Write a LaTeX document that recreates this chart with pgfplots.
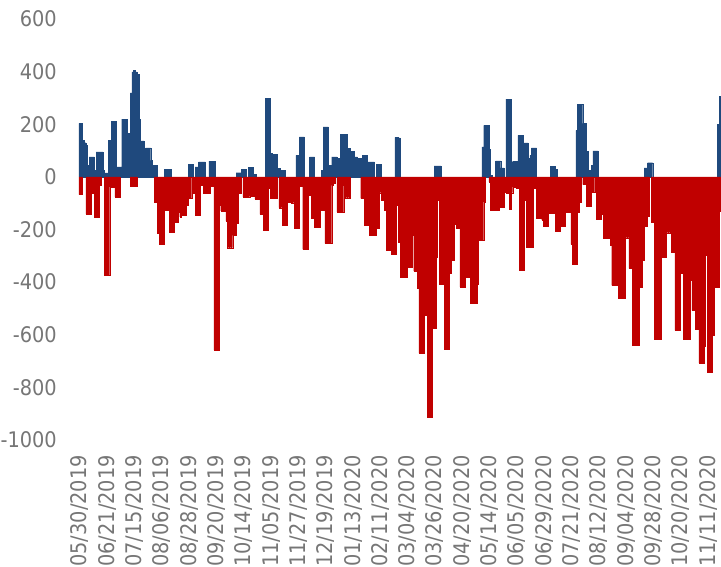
\documentclass[border=0pt]{standalone}
\usepackage{pgfplots}
\usepackage{pgfplotstable}
\pgfplotsset{compat=1.18}
\usepackage{fontspec}
\setmainfont{DejaVu Sans Condensed}
\definecolor{barblue}{RGB}{31,73,125}
\definecolor{barred}{RGB}{192,0,0}
\definecolor{lblgray}{RGB}{118,118,118}
\pgfplotstableread{
i b r
0 203 -67
1 203 -67
2 139 nan
3 130 nan
4 120 -142
5 44 -142
6 76 -142
7 76 -63
8 76 -63
9 25 -152
10 95 -152
11 95 -152
12 95 -30
13 95 nan
14 25 nan
15 15 -375
16 15 -375
17 139 -375
18 139 -38
19 211 -38
20 211 -38
21 211 -76
22 38 -76
23 38 -76
24 38 nan
25 219 nan
26 219 nan
27 219 nan
28 165 nan
29 165 nan
30 319 -34
31 399 -34
32 405 -34
33 399 -34
34 390 nan
35 218 nan
36 137 nan
37 137 nan
38 85 nan
39 110 nan
40 110 nan
41 110 nan
42 63 nan
43 44 nan
44 44 -95
45 44 -95
46 nan -214
47 nan -256
48 nan -256
49 nan -256
50 29 -127
51 29 -127
52 29 -95
53 29 -209
54 nan -209
55 nan -209
56 nan -171
57 nan -171
58 nan -133
59 nan -152
60 nan -147
61 nan -147
62 nan -147
63 nan -109
64 47 -82
65 47 -82
66 47 nan
67 nan -61
68 38 -146
69 38 -146
70 57 -146
71 57 -32
72 57 -32
73 57 -63
74 nan -63
75 nan -63
76 60 -63
77 60 -34
78 60 -34
79 60 -658
80 nan -658
81 nan -658
82 nan -108
83 nan -129
84 nan -129
85 nan -129
86 nan -167
87 nan -269
88 nan -269
89 nan -269
90 nan -222
91 nan -222
92 16 -177
93 16 -63
94 16 -63
95 29 nan
96 29 -76
97 29 -76
98 nan -76
99 37 -76
100 37 -72
101 37 -72
102 9 -72
103 9 -85
104 nan -85
105 nan -85
106 nan -143
107 nan -143
108 nan -203
109 298 -203
110 298 -203
111 298 -42
112 89 -82
113 86 -82
114 86 -82
115 86 -82
116 32 nan
117 32 -117
118 25 -117
119 25 -184
120 25 -184
121 nan -184
122 nan -95
123 nan -95
124 nan -98
125 nan -98
126 nan -196
127 82 -196
128 82 -196
129 152 -34
130 152 -34
131 152 -276
132 nan -276
133 nan -276
134 nan -70
135 76 -70
136 76 -158
137 76 -158
138 nan -190
139 nan -190
140 nan -190
141 nan -127
142 25 -127
143 190 -127
144 190 -253
145 190 -253
146 44 -253
147 44 -253
148 76 -32
149 76 -25
150 76 nan
151 70 -133
152 70 -133
153 161 -133
154 161 -133
155 161 -34
156 161 -79
157 108 -79
158 108 -79
159 98 nan
160 98 nan
161 76 nan
162 76 nan
163 70 nan
164 70 nan
165 70 -82
166 82 -82
167 82 -184
168 82 -184
169 57 -184
170 57 -222
171 57 -222
172 57 -222
173 nan -222
174 47 -196
175 47 -196
176 47 -60
177 nan -89
178 nan -89
179 nan -127
180 nan -279
181 nan -279
182 nan -279
183 nan -295
184 nan -295
185 150 -295
186 150 -108
187 148 -247
188 nan -380
189 nan -380
190 nan -380
191 nan -380
192 nan -342
193 nan -342
194 nan -342
195 nan -222
196 nan -358
197 nan -358
198 nan -422
199 nan -670
200 nan -670
201 nan -670
202 nan -526
203 nan -526
204 nan -915
205 nan -915
206 nan -915
207 nan -576
208 42 -576
209 42 -304
210 42 -89
211 42 -408
212 nan -408
213 nan -408
214 nan -655
215 nan -655
216 nan -655
217 nan -367
218 nan -317
219 nan -317
220 nan -181
221 nan -196
222 nan -196
223 nan -418
224 nan -418
225 nan -418
226 nan -383
227 nan -383
228 nan -383
229 nan -481
230 nan -481
231 nan -481
232 nan -481
233 nan -408
234 nan -241
235 nan -241
236 114 -241
237 196 -95
238 196 nan
239 196 nan
240 105 -19
241 6 -127
242 nan -127
243 nan -127
244 61 -127
245 61 -127
246 61 -114
247 34 -114
248 34 -114
249 nan -57
250 295 -61
251 295 -61
252 295 -123
253 57 -60
254 60 -38
255 60 -38
256 60 -42
257 158 -42
258 158 -355
259 158 -355
260 129 -355
261 129 -89
262 129 -266
263 70 -266
264 82 -266
265 110 -266
266 110 -42
267 110 -42
268 nan -158
269 nan -158
270 nan -158
271 nan -163
272 nan -188
273 nan -188
274 nan -188
275 nan -139
276 41 -139
277 41 -139
278 41 -139
279 29 -207
280 nan -207
281 nan -207
282 nan -188
283 nan -188
284 nan -188
285 nan -133
286 nan -133
287 nan -133
288 nan -257
289 nan -333
290 nan -333
291 177 -333
292 275 -133
293 275 -95
294 275 nan
295 203 -29
296 203 -29
297 98 -110
298 25 -110
299 25 -110
300 44 -57
301 99 -57
302 99 nan
303 99 -162
304 nan -162
305 nan -162
306 nan -143
307 nan -234
308 nan -234
309 nan -234
310 nan -234
311 nan -260
312 nan -412
313 nan -412
314 nan -412
315 nan -412
316 nan -462
317 nan -462
318 nan -462
319 nan -462
320 nan -231
321 nan -231
322 nan -348
323 nan -348
324 nan -640
325 nan -640
326 nan -640
327 nan -640
328 nan -421
329 nan -421
330 nan -318
331 34 -186
332 34 -186
333 54 -148
334 54 nan
335 54 -171
336 nan -171
337 nan -618
338 nan -618
339 nan -618
340 nan -618
341 nan -304
342 nan -304
343 nan -304
344 nan -212
345 nan -212
346 nan -212
347 nan -285
348 nan -285
349 nan -583
350 nan -583
351 nan -583
352 nan -367
353 nan -367
354 nan -617
355 nan -617
356 nan -617
357 nan -617
358 nan -393
359 nan -507
360 nan -507
361 nan -579
362 nan -579
363 nan -707
364 nan -707
365 nan -707
366 nan -643
367 nan -298
368 nan -744
369 nan -744
370 nan -744
371 nan -602
372 nan -418
373 nan -418
374 199 -418
375 307 -130
}\datatable
\begin{document}
\begin{tikzpicture}
\begin{axis}[
  at={(0pt,0pt)}, anchor=south west,
  scale only axis, width=642pt, height=421pt,
  xmin=-0.5, xmax=375.5, ymin=-1000, ymax=600,
  axis line style={draw=none},
  major tick length=0pt,
  xtick={0,16,...,368},
  xticklabels={05/30/2019,06/21/2019,07/15/2019,08/06/2019,08/28/2019,09/20/2019,10/14/2019,11/05/2019,11/27/2019,12/19/2019,01/13/2020,02/11/2020,03/04/2020,03/26/2020,04/20/2020,05/14/2020,06/05/2020,06/29/2020,07/21/2020,08/12/2020,09/04/2020,09/28/2020,10/20/2020,11/11/2020},
  ytick={-1000,-800,-600,-400,-200,0,200,400,600},
  yticklabels={-1000,-800,-600,-400,-200,0,200,400,600},
  xticklabel style={rotate=90, anchor=east, inner sep=0pt, font=\fontsize{21.5}{21.5}\selectfont, text=lblgray},
  yticklabel style={anchor=east, inner sep=0pt, font=\fontsize{21.5}{21.5}\selectfont, text=lblgray},
  xticklabel shift=15pt,
  yticklabel shift=22pt,
  clip=false,
]
\addplot[ybar, bar width=1, bar shift=0pt, fill=barblue, draw=barblue, line width=0.3pt] table[x=i, y=b] {\datatable};
\addplot[ybar, bar width=1, bar shift=0pt, fill=barred, draw=barred, line width=0.3pt] table[x=i, y=r] {\datatable};
\end{axis}
\pgfresetboundingbox
\path[use as bounding box] (-79pt,-127pt) rectangle (642pt,440pt);
\end{tikzpicture}
\end{document}
